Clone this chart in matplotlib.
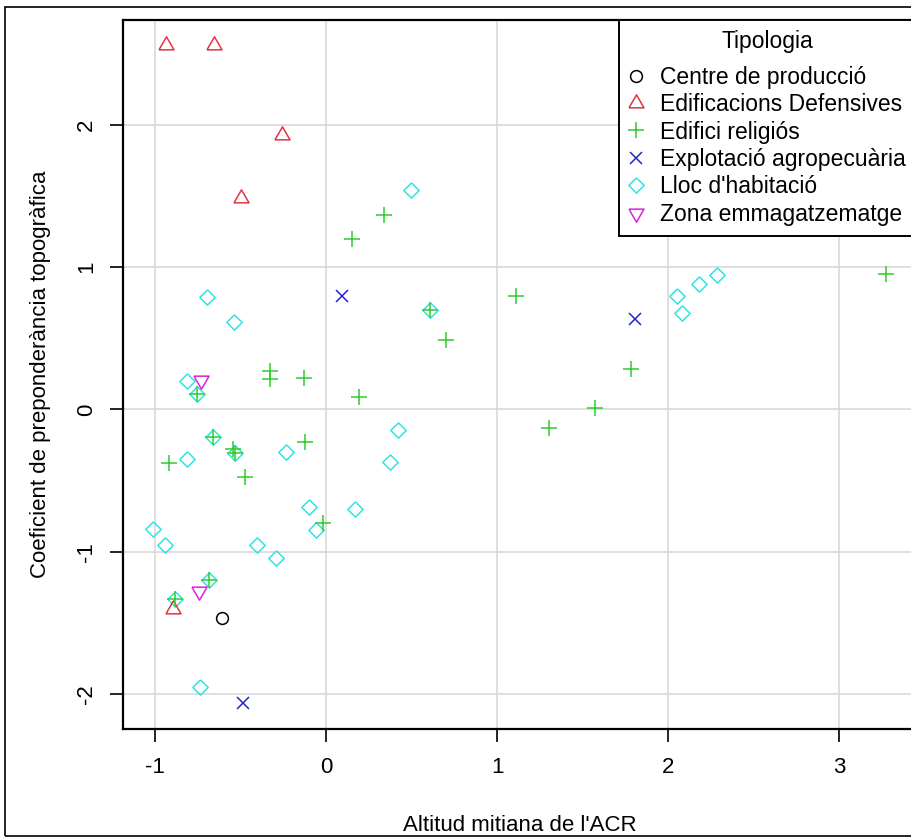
import matplotlib.pyplot as plt
from matplotlib.patches import Rectangle

plt.rcParams['font.family'] = ['Liberation Sans', 'DejaVu Sans']
plt.rcParams['axes.unicode_minus'] = False

# Centre de producció
centre_x = [-0.606]
centre_y = [-1.464]

# Edificacions Defensives
defensa_x = [-0.937, -0.655, -0.259, -0.497, -0.897]
defensa_y = [2.565, 2.565, 1.93, 1.49, -1.401]

# Edifici religiós
religios_x = [0.152, 0.339, 0.608, 0.700, 1.111, 3.274, 1.784, 1.573, 1.306,
              -0.753, -0.327, -0.327, -0.129, 0.191, -0.659, -0.542, -0.532,
              -0.916, -0.474, -0.121, -0.019, -0.682, -0.883]
religios_y = [1.20, 1.37, 0.696, 0.492, 0.801, 0.953, 0.286, 0.012, -0.131,
              0.108, 0.269, 0.211, 0.223, 0.089, -0.195, -0.275, -0.304,
              -0.375, -0.476, -0.229, -0.801, -1.199, -1.335]

# Explotació agropecuària
explot_x = [0.092, 1.807, -0.484]
explot_y = [0.80, 0.637, -2.061]

# Lloc d'habitació
lloc_x = [0.497, -0.696, -0.538, 0.608, -0.811, -0.753, 0.423, -0.659, -0.532,
          -0.815, -0.236, 0.374, -0.099, 0.171, -0.058, -1.013, -0.942, -0.404,
          -0.292, -0.682, -0.883, -0.737, 2.051, 2.181, 2.285, 2.084]
lloc_y = [1.54, 0.794, 0.618, 0.696, 0.199, 0.108, -0.141, -0.195, -0.304,
          -0.346, -0.298, -0.370, -0.686, -0.696, -0.848, -0.843, -0.951, -0.956,
          -1.042, -1.199, -1.335, -1.949, 0.796, 0.885, 0.944, 0.675]

# Zona emmagatzematge
zona_x = [-0.731, -0.743]
zona_y = [0.204, -1.277]

tri_up = [(-1, -0.5774), (1, -0.5774), (0, 1.1547), (-1, -0.5774)]
tri_down = [(x, -y) for x, y in tri_up]
diamond = [(0, 1), (1, 0), (0, -1), (-1, 0), (0, 1)]

groups = [
    ("Centre de producció", centre_x, centre_y, 'o', 'black', 8.5, 3),
    ("Edificacions Defensives", defensa_x, defensa_y, tri_up, '#E33440', 12.5, 3),
    ("Edifici religiós", religios_x, religios_y, '+', '#2FCC2F', 11.5, 4),
    ("Explotació agropecuària", explot_x, explot_y, 'x', '#2424CC', 8, 3),
    ("Lloc d'habitació", lloc_x, lloc_y, diamond, '#30E2E2', 11, 2),
    ("Zona emmagatzematge", zona_x, zona_y, tri_down, '#DD22DD', 12.5, 3),
]

W, H = 912, 838
fig = plt.figure(figsize=(W / 100, H / 100), dpi=100)
ax = fig.add_axes([123 / W, (H - 729) / H, (916 - 123) / W, (729 - 20) / H])

for label, xs, ys, mk, col, ms, z in groups:
    ax.plot(xs, ys, linestyle='none', marker=mk, markersize=ms,
            markerfacecolor='none', markeredgecolor=col, markeredgewidth=1.1,
            label=label, zorder=z)

ax.set_xlim(-1.187, 3.450)
ax.set_ylim(-2.246, 2.738)
ax.set_xticks([-1, 0, 1, 2, 3])
ax.set_yticks([-2, -1, 0, 1, 2])
ax.set_yticklabels(['-2', '-1', '0', '1', '2'], rotation=90, va='center')
ax.grid(True, color='#D6D6D6', linewidth=1.1, zorder=0)
ax.set_axisbelow(True)

for sp in ax.spines.values():
    sp.set_linewidth(1.6)
ax.tick_params(direction='out', length=9.5, width=1.2, labelsize=16)
ax.tick_params(axis='x', pad=11)
ax.tick_params(axis='y', pad=9)

ax.set_xlabel("Altitud mitiana de l'ACR", fontsize=16, labelpad=26.5)
ax.set_ylabel("Coeficient de preponderància topogràfica", fontsize=16, labelpad=18)

leg = ax.legend(title="Tipologia", loc='upper right', fontsize=16.5, title_fontsize=16.5,
                frameon=True, fancybox=False, edgecolor='black', framealpha=1,
                borderaxespad=0, borderpad=0.45, labelspacing=0.19,
                handlelength=0.6, handletextpad=0.75)
leg.get_frame().set_linewidth(1.4)
leg._legend_box.sep = 9

fig.patches.append(Rectangle((5 / W, 2 / H), 1.0, (836 - 7) / H, transform=fig.transFigure,
                             fill=False, edgecolor='black', linewidth=1.2))

fig.savefig('out.png', dpi=100)
